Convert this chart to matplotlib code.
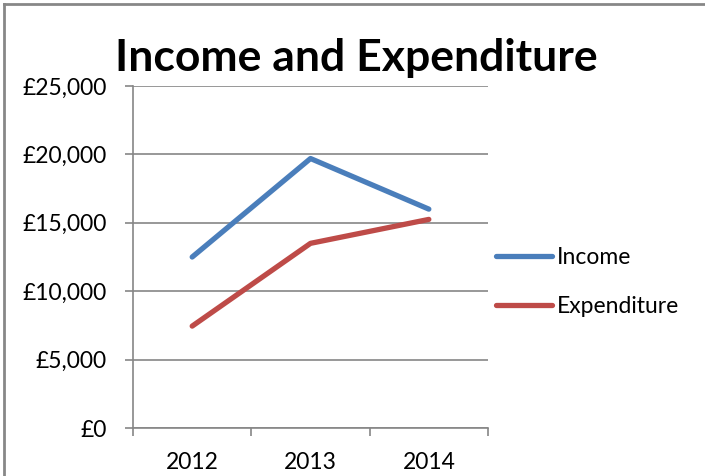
import numpy as np
import matplotlib.pyplot as plt
from matplotlib.lines import Line2D

years = ["2012", "2013", "2014"]
income = [12500, 19700, 16000]
expenditure = [7450, 13500, 15250]
y_ticks = [0, 5000, 10000, 15000, 20000, 25000]

plt.rcParams['font.family'] = ['Lato', 'DejaVu Sans']

fig = plt.figure(figsize=(7.05, 4.76), dpi=100)
ax = fig.add_axes([0.1887, 0.1008, 0.5035, 0.7185])

x = np.arange(len(years))
ax.plot(x, income, color='#4a7ebb', lw=3.8, solid_capstyle='round', label='Income')
ax.plot(x, expenditure, color='#be4b48', lw=3.8, solid_capstyle='round', label='Expenditure')

ax.set_xlim(-0.5, 2.5)
ax.set_ylim(0, 25000)
ax.set_yticks(y_ticks)
ax.set_yticklabels(["£{:,}".format(v) for v in y_ticks])
ax.set_xticks(x)
ax.set_xticklabels(years)
ax.set_xticks(np.arange(-0.5, 3, 1), minor=True)
ax.tick_params(axis='x', which='major', length=0, pad=17, labelsize=16.5)
ax.tick_params(axis='x', which='minor', length=6, width=1.2, color='#868686', direction='out')
ax.tick_params(axis='y', length=6, width=1.2, color='#868686', pad=13, labelsize=16.5)

ax.grid(axis='y', color='#868686', lw=1.2)
ax.set_axisbelow(True)
for s in ['top', 'right']:
    ax.spines[s].set_visible(False)
for s in ['left', 'bottom']:
    ax.spines[s].set_color('#868686')
    ax.spines[s].set_linewidth(1.2)

fig.text(0.506, 0.878, "Income and Expenditure", ha='center', va='center',
         fontsize=32, fontweight='bold')

leg = fig.legend(loc='center left', bbox_to_anchor=(0.674, 0.408), frameon=False,
                 fontsize=16.5, handlelength=2.45, handletextpad=0.2, labelspacing=1.22)

# chart frame (top and left edges visible)
fig.add_artist(Line2D([0.005, 1.0], [0.991, 0.991], color='#878787', lw=2))
fig.add_artist(Line2D([0.006, 0.006], [0.0, 0.991], color='#878787', lw=2))

fig.savefig("out.png", dpi=100)
